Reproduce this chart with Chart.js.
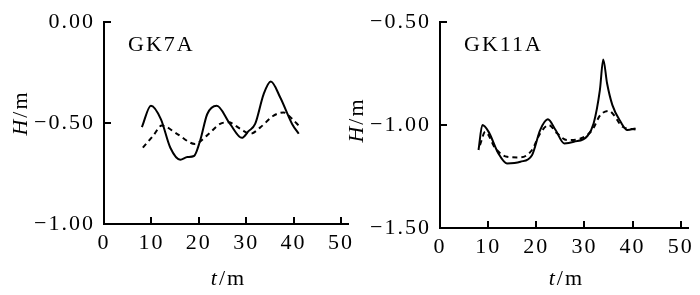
<!DOCTYPE html>
<html>
<head>
<meta charset="utf-8">
<script src="https://cdn.jsdelivr.net/npm/chart.js@4"></script>
<style>
  html, body { margin: 0; padding: 0; background: #fff; }
  #wrap { position: relative; width: 700px; height: 295px; overflow: hidden; }
  .panel { position: absolute; top: 0; height: 295px; }
  #left { left: 0; width: 370px; }
  #right { left: 340px; width: 360px; }
</style>
</head>
<body>
<div id="wrap">
  <div class="panel" id="left"><canvas id="gk7a"></canvas></div>
  <div class="panel" id="right"><canvas id="gk11a"></canvas></div>
</div>
<script>
// shared x ticks (t/m)
const xTicks = [0, 10, 20, 30, 40, 50];

// GK7A
const gk7aTicks = [0, -0.5, -1];
const gk7aTickLabels = ["0.00", "\u22120.50", "\u22121.00"];
const gk7aSolidT = [8.0, 9.9, 12.0, 14.0, 16.1, 17.6, 19.0, 20.3, 21.8, 23.8, 26.6, 29.1, 30.5, 31.9, 33.7, 35.2, 37.2, 39.7, 41.1];
const gk7aSolidH = [-0.52, -0.414, -0.48, -0.622, -0.681, -0.668, -0.663, -0.586, -0.455, -0.414, -0.504, -0.573, -0.54, -0.504, -0.356, -0.294, -0.373, -0.504, -0.553];
const gk7aDashT = [8.2, 10.4, 12.2, 15.4, 19.2, 21.7, 24.5, 26.3, 28.8, 30.9, 33.0, 35.8, 37.9, 39.7, 41.1];
const gk7aDashH = [-0.622, -0.562, -0.512, -0.553, -0.603, -0.562, -0.504, -0.496, -0.529, -0.553, -0.521, -0.463, -0.447, -0.479, -0.512];

// GK11A
const gk11aTicks = [-0.5, -1, -1.5];
const gk11aTickLabels = ["\u22120.50", "\u22121.00", "\u22121.50"];
const gk11aSolidT = [8.0, 8.8, 10.1, 12.1, 13.9, 16.7, 19.1, 20.8, 22.4, 24.0, 25.8, 27.8, 30.6, 31.9, 33.2, 33.9, 34.7, 35.8, 37.5, 38.9, 40.6];
const gk11aSolidH = [-1.121, -1.0, -1.033, -1.137, -1.186, -1.178, -1.146, -1.024, -0.972, -1.024, -1.089, -1.081, -1.053, -0.992, -0.83, -0.681, -0.798, -0.903, -0.984, -1.024, -1.016];
const gk11aDashT = [8.3, 9.4, 11.5, 13.9, 16.7, 19.1, 20.8, 22.6, 24.3, 26.4, 29.2, 31.6, 33.3, 35.1, 36.1, 37.9, 40.6];
const gk11aDashH = [-1.097, -1.033, -1.113, -1.154, -1.157, -1.121, -1.04, -1.0, -1.04, -1.073, -1.065, -1.024, -0.951, -0.931, -0.951, -1.008, -1.021];

const FONT = "'Liberation Serif', 'DejaVu Serif', serif";

function pts(ts, hs) {
  return ts.map((t, i) => ({ x: t, y: hs[i] }));
}

// inward tick marks, panel label and axis titles
const decor = {
  id: "decor",
  beforeDraw(chart) {
    // the scanned figure has loosely spaced type
    chart.ctx.letterSpacing = "2px";
  },
  afterDraw(chart, args, opts) {
    const { ctx, chartArea, scales } = chart;
    const x = scales.x, y = scales.y;
    ctx.save();
    ctx.letterSpacing = "2px";
    ctx.strokeStyle = "#000";
    ctx.lineWidth = 2;
    ctx.beginPath();
    xTicks.slice(1).forEach(v => {
      const px = Math.round(x.getPixelForValue(v));
      ctx.moveTo(px, chartArea.bottom);
      ctx.lineTo(px, chartArea.bottom - 7);
    });
    opts.yTicks.slice(0, -1).forEach(v => {
      const py = Math.round(y.getPixelForValue(v));
      ctx.moveTo(chartArea.left, py);
      ctx.lineTo(chartArea.left + 7, py);
    });
    ctx.stroke();

    ctx.fillStyle = "#000";
    ctx.textBaseline = "alphabetic";
    ctx.textAlign = "left";
    ctx.font = "22px " + FONT;
    ctx.fillText(opts.label, chartArea.left + 24, chartArea.top + 29);

    // x title: t/m
    const cx = (chartArea.left + x.getPixelForValue(50)) / 2 + 6;
    ctx.font = "italic 22px " + FONT;
    const wt = ctx.measureText("t").width;
    ctx.font = "22px " + FONT;
    const wm = ctx.measureText("/m").width;
    const sx = cx - (wt + wm) / 2;
    ctx.font = "italic 22px " + FONT;
    ctx.fillText("t", sx, 285);
    ctx.font = "22px " + FONT;
    ctx.fillText("/m", sx + wt, 285);

    // y title: H/m
    ctx.translate(chartArea.left - 77, opts.titleY);
    ctx.rotate(-Math.PI / 2);
    ctx.font = "italic 22px " + FONT;
    const wh = ctx.measureText("H").width;
    ctx.font = "22px " + FONT;
    const wm2 = ctx.measureText("/m").width;
    const sy = -(wh + wm2) / 2;
    ctx.font = "italic 22px " + FONT;
    ctx.fillText("H", sy, 0);
    ctx.font = "22px " + FONT;
    ctx.fillText("/m", sy + wh, 0);
    ctx.restore();
  }
};

function makeChart(id, cfg) {
  const ctx = document.getElementById(id).getContext("2d");
  return new Chart(ctx, {
    type: "line",
    data: {
      datasets: [
        {
          data: pts(cfg.solidT, cfg.solidH),
          borderColor: "#000",
          borderWidth: 2,
          pointRadius: 0,
          cubicInterpolationMode: "monotone",
        },
        {
          data: pts(cfg.dashT, cfg.dashH),
          borderColor: "#000",
          borderWidth: 2,
          borderDash: [5, 4],
          pointRadius: 0,
          cubicInterpolationMode: "monotone",
        },
      ],
    },
    options: {
      responsive: true,
      maintainAspectRatio: false,
      animation: false,
      layout: { padding: { left: 0, top: cfg.top, right: cfg.right, bottom: 0 } },
      plugins: {
        legend: { display: false },
        tooltip: { enabled: false },
        decor: { label: cfg.label, yTicks: cfg.yTicks, titleY: cfg.titleY },
      },
      scales: {
        x: {
          type: "linear",
          min: 0,
          max: 51.5,
          afterBuildTicks: s => { s.ticks = xTicks.map(v => ({ value: v })); },
          afterFit: s => { s.height = cfg.xHeight; },
          grid: { display: false, drawTicks: false },
          border: { display: true, color: "#000", width: 2 },
          ticks: { color: "#000", padding: 6, maxRotation: 0, font: { family: FONT, size: 22 } },
        },
        y: {
          type: "linear",
          min: cfg.yTicks[cfg.yTicks.length - 1],
          max: cfg.yTicks[0],
          afterBuildTicks: s => { s.ticks = cfg.yTicks.map(v => ({ value: v })); },
          afterFit: s => { s.width = cfg.yWidth; },
          grid: { display: false, drawTicks: false },
          border: { display: true, color: "#000", width: 2 },
          ticks: {
            color: "#000",
            padding: 9,
            font: { family: FONT, size: 22 },
            callback: v => cfg.yLabels[cfg.yTicks.indexOf(v)],
          },
        },
      },
    },
    plugins: [decor],
  });
}

makeChart("gk7a", {
  label: "GK7A",
  solidT: gk7aSolidT, solidH: gk7aSolidH,
  dashT: gk7aDashT, dashH: gk7aDashH,
  yTicks: gk7aTicks, yLabels: gk7aTickLabels,
  top: 21, right: 22, xHeight: 71, yWidth: 104, titleY: 113,
});

makeChart("gk11a", {
  label: "GK11A",
  solidT: gk11aSolidT, solidH: gk11aSolidH,
  dashT: gk11aDashT, dashH: gk11aDashH,
  yTicks: gk11aTicks, yLabels: gk11aTickLabels,
  top: 22, right: 12, xHeight: 67, yWidth: 100, titleY: 120,
});
</script>
</body>
</html>
